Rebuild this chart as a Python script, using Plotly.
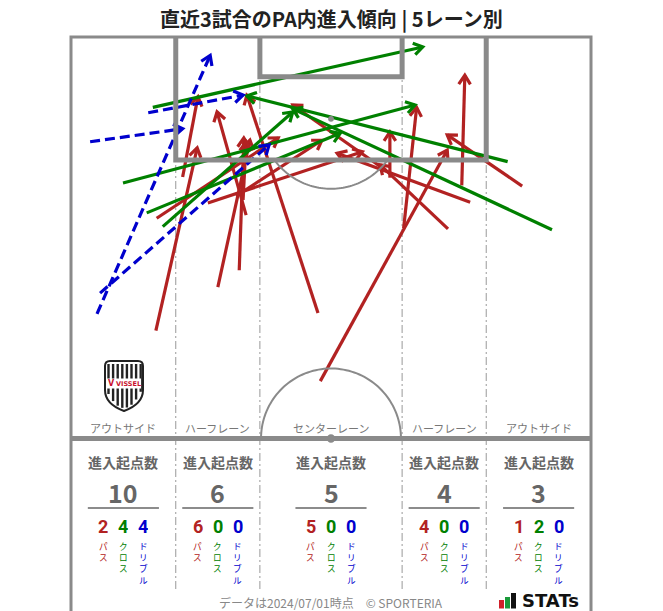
import numpy as np
import plotly.graph_objects as go

# ---------------- data ----------------
TITLE = "直近3試合のPA内進入傾向 | 5レーン別"
lane_names = ["アウトサイド", "ハーフレーン", "センターレーン", "ハーフレーン", "アウトサイド"]
lane_total = [10, 6, 5, 4, 3]
lane_pass = [2, 6, 5, 4, 1]
lane_cross = [4, 0, 0, 0, 2]
lane_dribble = [4, 0, 0, 0, 0]
type_names = ["パス", "クロス", "ドリブル"]
header_label = "進入起点数"
footer_text = "データは2024/07/01時点　© SPORTERIA"

# entries in pitch metres: x across pitch (0 = left touchline), y = distance from goal line
pass_x0 = [11.1, 11.2, 14.6, 19.2, 22.0, 22.9, 17.9, 21.6, 32.3, 32.6, 41.7, 41.1, 22.5, 43.5, 51.1, 52.2, 49.3, 59.0]
pass_y0 = [38.4, 23.7, 18.3, 32.7, 30.5, 23.3, 21.7, 20.8, 36.1, 45.0, 18.4, 17.4, 21.3, 25.0, 19.4, 21.6, 25.1, 19.5]
pass_x1 = [16.5, 27.1, 16.6, 23.4, 22.6, 19.1, 38.1, 32.8, 23.0, 49.2, 41.7, 29.0, 22.9, 45.2, 51.5, 34.8, 40.4, 49.2]
pass_y1 = [14.5, 13.2, 7.8, 13.5, 13.2, 9.8, 15.0, 13.5, 7.6, 14.8, 12.4, 8.9, 13.7, 9.2, 5.0, 15.2, 16.7, 12.8]

cross_x0 = [10.7, 6.8, 9.9, 12.0, 57.1, 62.9]
cross_y0 = [9.2, 19.1, 23.0, 24.8, 16.3, 25.2]
cross_x1 = [46.0, 45.0, 35.2, 29.0, 23.0, 29.0]
cross_y1 = [1.3, 8.9, 12.6, 9.8, 7.7, 9.4]

dribble_x0 = [3.4, 3.8, 2.5, 10.1]
dribble_y0 = [36.2, 33.5, 13.7, 9.9]
dribble_x1 = [18.2, 25.9, 14.6, 22.5]
dribble_y1 = [2.4, 14.1, 12.0, 7.6]

# ---------------- geometry / style ----------------
S = 7.647            # pixels per metre
OX, OY = 71, 37      # pixel position of the pitch origin
W, H = 663, 611
PW, HALF = 68.0, 52.5
PA_HW, PA_D = 20.3, 16.1
GA_HW, GA_D = 9.3, 5.2
SPOT, R = 10.7, 9.15
lane_edges = [0, PW / 2 - PA_HW, PW / 2 - GA_HW, PW / 2 + GA_HW, PW / 2 + PA_HW, PW]

RED, GREEN, BLUE = "#B22222", "#008000", "#0000CD"
LINE_GRAY = "#8a8a8a"
TEXT_GRAY = "#666666"
FONT = "Noto Sans CJK JP, Noto Sans, sans-serif"


def mx(px):
    return (px - OX) / S


def my(py):
    return (py - OY) / S


def arrows(x0s, y0s, x1s, y1s, L=1.4, ang=np.radians(33)):
    lx, ly, hx, hy = [], [], [], []
    for x0, y0, x1, y1 in zip(x0s, y0s, x1s, y1s):
        lx += [x0, x1, None]
        ly += [y0, y1, None]
        dx, dy = x1 - x0, y1 - y0
        n = np.hypot(dx, dy)
        ux, uy = dx / n, dy / n
        pts = []
        for sgn in (1, -1):
            c, s = np.cos(ang), np.sin(sgn * ang)
            rx, ry = ux * c - uy * s, ux * s + uy * c
            pts.append((x1 - L * rx, y1 - L * ry))
        hx += [pts[0][0], x1, pts[1][0], None]
        hy += [pts[0][1], y1, pts[1][1], None]
    return lx, ly, hx, hy


fig = go.Figure()

for (x0, y0, x1, y1, col, dash) in [
    (pass_x0, pass_y0, pass_x1, pass_y1, RED, None),
    (cross_x0, cross_y0, cross_x1, cross_y1, GREEN, None),
    (dribble_x0, dribble_y0, dribble_x1, dribble_y1, BLUE, "10px,5px"),
]:
    lx, ly, hx, hy = arrows(x0, y0, x1, y1)
    fig.add_trace(go.Scatter(x=lx, y=ly, mode="lines", hoverinfo="skip",
                             line=dict(color=col, width=3.2, dash=dash)))
    fig.add_trace(go.Scatter(x=hx, y=hy, mode="lines", hoverinfo="skip",
                             line=dict(color=col, width=3.2)))

shapes = []


def path(pts, close=False):
    s = "M " + " L ".join(f"{x:.3f},{y:.3f}" for x, y in pts)
    return s + (" Z" if close else "")


bottom = my(H) + 1
# lane dividers
for xe in lane_edges[1:-1]:
    shapes.append(dict(type="line", xref="x", yref="y", x0=xe, x1=xe, y0=0, y1=my(590),
                       line=dict(color="#999999", width=1, dash="8px,3px,2px,3px"), layer="below"))
# outer frame
shapes.append(dict(type="path", xref="x", yref="y",
                   path=path([(0, bottom), (0, 0), (PW, 0), (PW, bottom)]),
                   line=dict(color=LINE_GRAY, width=3)))
# penalty area
shapes.append(dict(type="path", xref="x", yref="y",
                   path=path([(PW / 2 - PA_HW, 0), (PW / 2 - PA_HW, PA_D), (PW / 2 + PA_HW, PA_D), (PW / 2 + PA_HW, 0)]),
                   line=dict(color=LINE_GRAY, width=5)))
# goal area
shapes.append(dict(type="path", xref="x", yref="y",
                   path=path([(PW / 2 - GA_HW, 0), (PW / 2 - GA_HW, GA_D), (PW / 2 + GA_HW, GA_D), (PW / 2 + GA_HW, 0)]),
                   line=dict(color=LINE_GRAY, width=5)))
# halfway line
shapes.append(dict(type="line", xref="x", yref="y", x0=0, x1=PW, y0=HALF, y1=HALF,
                   line=dict(color=LINE_GRAY, width=5)))
# centre circle (upper half)
t = np.linspace(0, np.pi, 80)
shapes.append(dict(type="path", xref="x", yref="y",
                   path=path(list(zip(PW / 2 + R * np.cos(t), HALF - R * np.sin(t)))),
                   line=dict(color=LINE_GRAY, width=2)))
# penalty arc
a0 = np.arcsin((PA_D - SPOT) / R)
t = np.linspace(a0, np.pi - a0, 60)
shapes.append(dict(type="path", xref="x", yref="y",
                   path=path(list(zip(PW / 2 + R * np.cos(t), SPOT + R * np.sin(t)))),
                   line=dict(color=LINE_GRAY, width=2)))
# spots
for cy, rr in [(SPOT, 0.38), (HALF, 0.55)]:
    shapes.append(dict(type="circle", xref="x", yref="y", x0=PW / 2 - rr, x1=PW / 2 + rr,
                       y0=cy - rr, y1=cy + rr, fillcolor=LINE_GRAY, line=dict(width=0)))

# stats underlines
centers = [(lane_edges[i] + lane_edges[i + 1]) / 2 for i in range(5)]
for c in centers:
    shapes.append(dict(type="line", xref="x", yref="y", x0=c - 4.65, x1=c + 4.65, y0=my(508), y1=my(508),
                       line=dict(color=TEXT_GRAY, width=1.5)))

# club shield (decorative)
sx = mx
sy = my
shield = (f"M {sx(105)},{sy(366)} Q {sx(105)},{sy(361)} {sx(110)},{sy(361)} L {sx(138)},{sy(361)} "
          f"Q {sx(143)},{sy(361)} {sx(143)},{sy(366)} L {sx(143)},{sy(390)} "
          f"Q {sx(143)},{sy(404)} {sx(124)},{sy(411)} Q {sx(105)},{sy(404)} {sx(105)},{sy(390)} Z")
shapes.append(dict(type="path", xref="x", yref="y", path=shield, fillcolor="white",
                   line=dict(color="#222", width=2)))
for px in np.arange(108.5, 141, 4.6):
    yb = 390 + 21 * (1 - ((px - 124) / 19) ** 2) - 3
    shapes.append(dict(type="line", xref="x", yref="y", x0=sx(px), x1=sx(px), y0=sy(364), y1=sy(yb),
                       line=dict(color="#222", width=2.4)))
shapes.append(dict(type="rect", xref="x", yref="y", x0=sx(107), x1=sx(141), y0=sy(378.5), y1=sy(388.5),
                   fillcolor="white", line=dict(width=0)))

# STATs icon bars
for (x0p, x1p, y0p, col) in [(499, 504, 600, "#d0202a"), (505, 510, 597, "#1a9a3a"), (511, 516, 593, "#111111")]:
    shapes.append(dict(type="rect", xref="x", yref="y", x0=mx(x0p), x1=mx(x1p), y0=my(y0p), y1=my(608.5),
                       fillcolor=col, line=dict(width=0)))

ann = []


def txt(x, y, text, size, color, **kw):
    d = dict(x=x, y=y, xref="x", yref="y", text=text, showarrow=False,
             font=dict(size=size, color=color, family=kw.pop("family", FONT)), xanchor="center", yanchor="middle")
    d.update(kw)
    ann.append(d)


txt(mx(331), my(18), f"<b>{TITLE}</b>", 20, "#222222")
for i, c in enumerate(centers):
    txt(c, my(428), lane_names[i], 11, "#777777")
    txt(c, my(462), f"<b>{header_label}</b>", 14, TEXT_GRAY)
    txt(c, my(492), f"<b>{lane_total[i]}</b>", 25, TEXT_GRAY)
    vals = [lane_pass[i], lane_cross[i], lane_dribble[i]]
    for k, (v, col) in enumerate(zip(vals, [RED, GREEN, BLUE])):
        xk = c + (k - 1) * 2.62
        txt(xk, my(526), f"<b>{v}</b>", 18, col, family="Roboto, Noto Sans, sans-serif",
            height=17, borderpad=0)
        txt(xk, my(538.5), "<br>".join(type_names[k]), 8.6, col, yanchor="top", borderpad=0)

txt(mx(124) + 0.55, my(383.5), "<b>VISSEL</b>", 6.5, "#c8102e", family="DejaVu Sans")
txt(mx(111.5), my(383.5), "<b>V</b>", 8, "#c8102e", family="DejaVu Sans")
txt(mx(331), my(602.5), footer_text, 12, "#888888", height=15)
txt(mx(521), my(600.5), "<b>STATs</b>", 18, "#111111", family="DejaVu Sans", xanchor="left", height=15, borderpad=0)

fig.update_layout(
    width=W, height=H, margin=dict(l=0, r=0, t=0, b=0),
    paper_bgcolor="white", plot_bgcolor="white", showlegend=False,
    font=dict(family=FONT),
    xaxis=dict(range=[mx(0), mx(W)], visible=False, fixedrange=True),
    yaxis=dict(range=[my(H), my(0)], visible=False, fixedrange=True),
    shapes=shapes, annotations=ann,
)

fig.write_html("out.html")
